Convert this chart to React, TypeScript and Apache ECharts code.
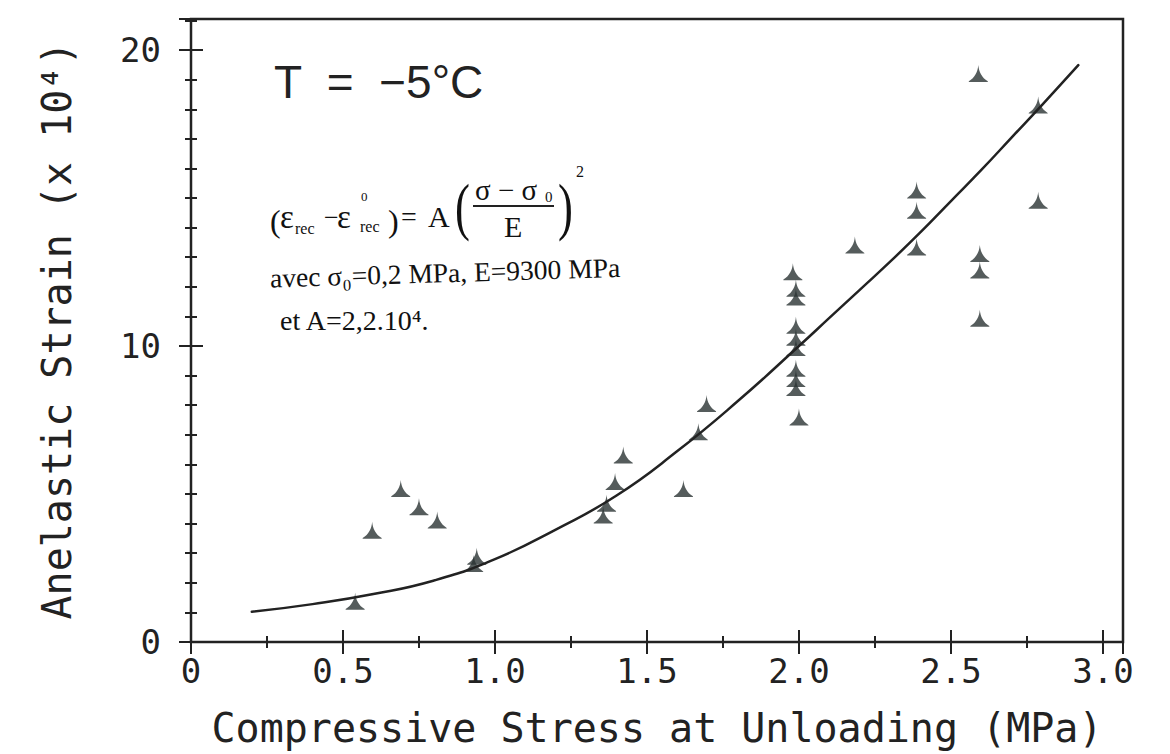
import React, { useEffect, useRef } from 'react';
import * as echarts from 'echarts';

// Fitted curve (stress MPa, strain x10^4)
const curveX = [0.2, 0.4, 0.6, 0.8, 1.0, 1.2, 1.4, 1.6, 1.8, 2.0, 2.1, 2.2, 2.3, 2.4, 2.5, 2.6, 2.7, 2.8, 2.919];
const curveY = [1.02, 1.28, 1.62, 2.08, 2.8, 3.8, 4.95, 6.45, 8.15, 10.0, 10.95, 11.9, 12.85, 13.85, 14.9, 15.95, 17.05, 18.15, 19.49];

// Measured points (triangles)
const pointX = [0.54, 0.596, 0.69, 0.75, 0.81, 0.93, 0.94, 1.356, 1.367, 1.395, 1.422, 1.62, 1.669, 1.696,
  1.98, 1.99, 1.99, 1.99, 1.99, 1.99, 1.99, 1.99, 1.99, 2.0, 2.184, 2.387, 2.387, 2.387, 2.59, 2.595, 2.595, 2.595, 2.787, 2.787];
const pointY = [1.38, 3.78, 5.19, 4.57, 4.12, 2.65, 2.9, 4.29, 4.69, 5.42, 6.32, 5.19, 7.1, 8.06,
  12.51, 11.66, 11.95, 10.7, 10.3, 9.95, 9.25, 8.9, 8.6, 7.6, 13.41, 15.27, 14.59, 13.35, 19.21, 13.13, 12.57, 10.94, 18.14, 14.93];

const xTickLabels = ['0', '0.5', '1.0', '1.5', '2.0', '2.5', '3.0'];
const yTickLabels = ['0', '10', '20'];

const X_MAX = 3.066;
const Y_MAX = 21.05;
const INK = '#222';
const MONO = 'DejaVu Sans Mono';
const SERIF = 'Liberation Serif';

const TRI = 'path://M50,0 C53,40 68,74 100,96 L100,100 L0,100 L0,96 C32,74 47,40 50,0 Z';

function xAxisDef(pos: string, interval: number, len: number, labels: boolean) {
  return {
    type: 'value', min: 0, max: X_MAX, interval, position: pos,
    axisLine: { show: false }, splitLine: { show: false },
    axisTick: { inside: true, length: len, lineStyle: { color: INK, width: 2 } },
    axisLabel: labels ? {
      show: true, margin: 12, color: INK, fontFamily: MONO, fontSize: 34,
      formatter: (v: number) => {
        const i = Math.round(v / 0.5);
        return Math.abs(v - i * 0.5) < 1e-6 && i < xTickLabels.length ? xTickLabels[i] : '';
      },
    } : { show: false },
  };
}

function yAxisDef(pos: string, interval: number, len: number, labels: boolean) {
  return {
    type: 'value', min: 0, max: Y_MAX, interval, position: pos,
    axisLine: { show: false }, splitLine: { show: false },
    axisTick: { inside: true, length: len, lineStyle: { color: INK, width: 2 } },
    axisLabel: labels ? {
      show: true, margin: 30, color: INK, fontFamily: MONO, fontSize: 34,
      formatter: (v: number) => {
        const i = Math.round(v / 10);
        return Math.abs(v - i * 10) < 1e-6 && i < yTickLabels.length ? yTickLabels[i] : '';
      },
    } : { show: false },
  };
}

function txt(x: number, y: number, text: string, fontSize: number, extra: any = {}) {
  const { style, ...rest } = extra;
  return {
    type: 'text', x, y, ...rest,
    style: { text, fontSize, fontFamily: SERIF, fill: '#111', align: 'left', verticalAlign: 'middle', ...(style || {}) },
  };
}

export default function App() {
  const ref = useRef<HTMLDivElement>(null);
  useEffect(() => {
    document.body.style.margin = '0';
    const chart = echarts.init(ref.current!, null, { renderer: 'svg' });
    const bottomMain: any = xAxisDef('bottom', 0.5, 12, true);
    bottomMain.name = 'Compressive Stress at Unloading (MPa)';
    bottomMain.nameLocation = 'middle';
    bottomMain.nameGap = 66;
    bottomMain.nameTextStyle = { fontFamily: MONO, fontSize: 40, color: INK };
    const leftMain: any = yAxisDef('left', 10, 12, true);
    leftMain.name = 'Anelastic Strain (x 10⁴)';
    leftMain.nameLocation = 'middle';
    leftMain.nameGap = 114;
    leftMain.nameTextStyle = { fontFamily: MONO, fontSize: 40, color: INK };

    chart.setOption({
      animation: false,
      backgroundColor: '#fff',
      grid: { left: 191, right: 47, top: 19, bottom: 112, show: true, borderColor: INK, borderWidth: 2.5, backgroundColor: 'transparent' },
      xAxis: [
        bottomMain,
        xAxisDef('bottom', 0.25, 6, false),
        xAxisDef('top', 0.5, 12, false),
        xAxisDef('top', 0.25, 6, false),
      ],
      yAxis: [
        leftMain,
        yAxisDef('left', 1, 6, false),
        yAxisDef('right', 10, 12, false),
        yAxisDef('right', 1, 6, false),
      ],
      series: [
        {
          type: 'line', xAxisIndex: 0, yAxisIndex: 0, smooth: 0.5, symbol: 'none',
          lineStyle: { color: INK, width: 2.5, cap: 'round' },
          data: curveX.map((x, i) => [x, curveY[i]]),
        },
        {
          type: 'scatter', xAxisIndex: 0, yAxisIndex: 0, symbol: TRI, symbolSize: [19, 17],
          itemStyle: { color: '#2b3333' },
          data: pointX.map((x, i) => [x, pointY[i]]),
        },
      ],
      graphic: [
        { type: 'text', x: 274, y: 82, style: { text: 'T  =  −5°C', fontSize: 46, fontFamily: 'Liberation Sans', fill: INK, align: 'left', verticalAlign: 'middle' } },
        // equation
        txt(270, 221, '(', 32),
        txt(280, 217, 'ε', 33),
        txt(295, 228, 'rec', 16),
        txt(324, 217, '−', 26),
        txt(337, 217, 'ε', 33),
        txt(361, 196, '0', 13),
        txt(360, 226, 'rec', 16),
        txt(388, 221, ')', 32),
        txt(401, 216, '=', 28),
        txt(428, 216, 'A', 30),
        txt(455, 207, '(', 64, { scaleX: 0.7 }),
        txt(475, 190, 'σ − σ', 29),
        txt(545, 197, '0', 15),
        { type: 'line', shape: { x1: 473, y1: 206, x2: 554, y2: 206 }, style: { stroke: INK, lineWidth: 2 } },
        txt(504, 226, 'E', 30),
        txt(558, 207, ')', 64, { scaleX: 0.7 }),
        txt(576, 171, '2', 16),
        // parameters
        txt(270, 278, 'avec σ₀=0,2 MPa, E=9300 MPa', 27.5, { rotation: 0.03 }),
        txt(280, 320, 'et A=2,2.10⁴.', 28),
      ],
    });
    return () => chart.dispose();
  }, []);
  return <div ref={ref} style={{ width: 1170, height: 754 }} />;
}
